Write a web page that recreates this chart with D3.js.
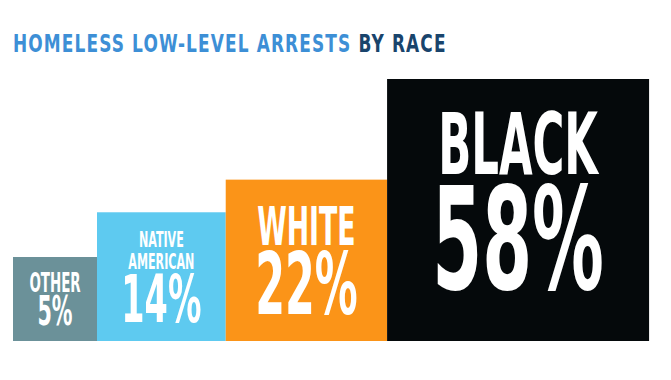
<!DOCTYPE html>
<html>
<meta charset="utf-8">
<script src="https://cdn.jsdelivr.net/npm/d3@7"></script>
<style>
  body { margin: 0; background: #fff; }
</style>
<body>
<div id="plot_area"></div>
</body>
<script>

var races = ["OTHER", "NATIVE AMERICAN", "WHITE", "BLACK"];
var shares = [5, 14, 22, 58];
var labelLines = [["OTHER"], ["NATIVE", "AMERICAN"], ["WHITE"], ["BLACK"]];
var colors = ["#6b9199", "#5ecaf0", "#fb9418", "#05090b"];
var titleParts = ["HOMELESS LOW-LEVEL ARRESTS ", "BY RACE"];
var titleColors = ["#3d8fd6", "#19446c"];

var width = 671, height = 380;
var left = 13, baseline = 341;
var font = "'DejaVu Sans Condensed', 'DejaVu Sans', sans-serif";
var capRatio = 0.729, squeeze = 0.56;

var svg = d3.select("#plot_area")
  .append("svg")
    .attr("width", width)
    .attr("height", height);

// title, squeezed to the width it takes in the original
var title = svg.append("text")
    .attr("font-size", 25)
    .style("font-family", font)
    .style("font-weight", "bold")
    .style("letter-spacing", "1.5px");
title.selectAll("tspan")
  .data(titleParts)
  .enter()
  .append("tspan")
    .attr("fill", function(d, i) { return titleColors[i]; })
    .text(function(d) { return d; });
var tw = title.node().getBBox().width;
title.attr("transform", "translate(" + left + ",51.5) scale(" + (434 / tw) + ",1)");

// squares: side goes with the square root of the share (tiny ones get a floor so the text fits)
var side = d3.scaleSqrt()
  .domain([0, d3.max(shares)])
  .range([0, 262]);
var minSide = 84;
var sides = shares.map(function(d) { return Math.max(side(d), minSide); });
var xs = [left];
sides.forEach(function(s, i) { xs.push(xs[i] + s); });

var bars = svg.selectAll(".bar")
  .data(shares)
  .enter()
  .append("g")
    .attr("class", "bar")
    .attr("transform", function(d, i) { return "translate(" + xs[i] + "," + (baseline - sides[i]) + ")"; });

bars.append("rect")
    .attr("width", function(d, i) { return sides[i]; })
    .attr("height", function(d, i) { return sides[i]; })
    .attr("fill", function(d, i) { return colors[i]; });

bars.each(function(d, i) {
  var g = d3.select(this), s = sides[i], lines = labelLines[i];

  // measure the widest line at 100px to size the label
  var probe = g.append("text")
      .attr("font-size", 100)
      .style("font-family", font)
      .style("font-weight", "bold");
  var w = d3.max(lines, function(t) { probe.text(t); return probe.node().getComputedTextLength(); });
  probe.remove();

  var fitSize = 100 * 0.61 * s / (w * squeeze);
  var labelCap = Math.min(fitSize * capRatio, 0.25 * s / lines.length);
  var labelSize = labelCap / capRatio;
  var numCap = 0.415 * s - 5, numSize = numCap / capRatio;
  var lineGap = 0.04 * s, gap = 0.04 * s;
  var block = lines.length * labelCap + (lines.length - 1) * lineGap + gap + numCap;
  // the big square keeps its text a little above centre
  var top = (s - block) / 2 - Math.max(0, s - 200) * 0.16;

  lines.forEach(function(t, k) {
    var base = top + labelCap * (k + 1) + lineGap * k;
    g.append("text")
        .attr("transform", "translate(" + (s / 2) + "," + base + ") scale(" + squeeze + ",1)")
        .attr("text-anchor", "middle")
        .attr("font-size", labelSize)
        .attr("fill", "#fff")
        .style("font-family", font)
        .style("font-weight", "bold")
        .text(t);
  });

  g.append("text")
      .attr("transform", "translate(" + (s / 2) + "," + (top + block) + ") scale(" + squeeze + ",1)")
      .attr("text-anchor", "middle")
      .attr("font-size", numSize)
      .attr("fill", "#fff")
      .style("font-family", font)
      .style("font-weight", "bold")
      .text(d + "%");
});

</script>
</html>
